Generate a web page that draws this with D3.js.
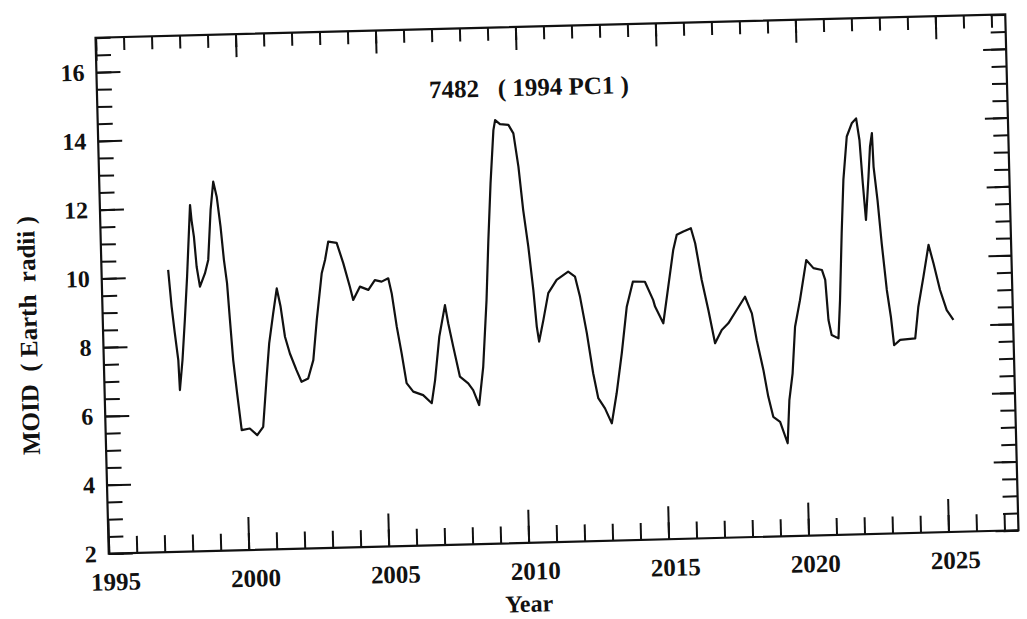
<!DOCTYPE html>
<html>
<head>
<meta charset="utf-8">
<script src="https://cdn.jsdelivr.net/npm/d3@7"></script>
<style>
    body { margin: 0; background: #fff; }
    text { font-family: "Liberation Serif", "Times New Roman", "DejaVu Serif", serif; font-weight: bold; fill: #111; }
</style>
</head>
<body>
<div id="chart"></div>
<script>
// MOID of 7482 (1994 PC1)
const years = [1997.38, 1997.47, 1997.56, 1997.66, 1997.69, 1997.81, 1997.93, 1998.05, 1998.22, 1998.26,
    1998.33, 1998.40, 1998.50, 1998.69, 1998.82, 1998.95, 1999.07, 1999.18, 1999.29, 1999.38,
    1999.47, 1999.54, 1999.62, 1999.73, 1999.86, 2000.15, 2000.41, 2000.63, 2000.80, 2000.92,
    2001.09, 2001.24, 2001.36, 2001.49, 2001.65, 2001.87, 2002.04, 2002.28, 2002.48, 2002.64,
    2002.86, 2002.99, 2003.12, 2003.42, 2003.64, 2003.85, 2003.96, 2004.21, 2004.51, 2004.75,
    2004.99, 2005.23, 2005.34, 2005.49, 2005.64, 2005.79, 2006.02, 2006.37, 2006.67, 2006.81,
    2007.00, 2007.23, 2007.33, 2007.49, 2007.70, 2007.99, 2008.16, 2008.36, 2008.54, 2008.72,
    2008.84, 2008.97, 2009.12, 2009.19, 2009.36, 2009.66, 2009.83, 2009.98, 2010.11, 2010.26,
    2010.40, 2010.49, 2010.56, 2010.73, 2010.93, 2011.24, 2011.66, 2011.90, 2012.06, 2012.27,
    2012.46, 2012.62, 2012.85, 2013.08, 2013.28, 2013.50, 2013.72, 2013.96, 2014.39, 2014.67,
    2014.73, 2015.01, 2015.22, 2015.43, 2015.57, 2015.81, 2016.08, 2016.22, 2016.42, 2016.63,
    2016.84, 2017.09, 2017.33, 2017.64, 2017.95, 2018.18, 2018.33, 2018.54, 2018.69, 2018.85,
    2019.09, 2019.34, 2019.44, 2019.58, 2019.71, 2019.91, 2020.17, 2020.42, 2020.72, 2020.83,
    2020.91, 2021.01, 2021.25, 2021.34, 2021.46, 2021.57, 2021.73, 2021.92, 2022.08, 2022.18,
    2022.26, 2022.34, 2022.47, 2022.55, 2022.63, 2022.66, 2022.77, 2022.88, 2023.02, 2023.14,
    2023.23, 2023.45, 2023.99, 2024.13, 2024.34, 2024.55, 2024.71, 2024.92, 2025.14, 2025.37];

const moid = [10.20, 9.13, 8.36, 7.57, 6.70, 7.57, 8.73, 9.99, 12.07, 11.63,
    11.15, 10.27, 9.69, 10.07, 10.46, 11.91, 12.73, 12.29, 11.42, 10.45,
    9.77, 8.70, 7.53, 6.56, 5.49, 5.53, 5.33, 5.57, 7.02, 7.99,
    8.86, 9.58, 9.05, 8.17, 7.68, 7.19, 6.85, 6.94, 7.47, 8.63,
    9.99, 10.37, 10.90, 10.86, 10.26, 9.58, 9.19, 9.57, 9.47, 9.75,
    9.70, 9.79, 9.35, 8.38, 7.60, 6.73, 6.48, 6.37, 6.13, 6.80,
    8.06, 8.97, 8.44, 7.75, 6.88, 6.68, 6.48, 6.04, 7.15, 9.09,
    10.83, 12.48, 14.02, 14.31, 14.19, 14.16, 13.91, 12.94, 11.68, 10.61,
    9.34, 8.27, 7.84, 8.46, 9.24, 9.62, 9.85, 9.70, 9.11, 8.05,
    6.88, 6.15, 5.85, 5.41, 6.28, 7.44, 8.79, 9.51, 9.50, 8.96,
    8.77, 8.28, 9.34, 10.40, 10.84, 10.93, 11.02, 10.58, 9.51, 8.63,
    7.66, 8.04, 8.23, 8.61, 8.99, 8.50, 7.72, 6.85, 6.07, 5.48,
    5.33, 4.70, 5.95, 6.73, 8.08, 8.85, 10.01, 9.77, 9.71, 9.42,
    8.25, 7.81, 7.71, 8.82, 10.76, 12.31, 13.57, 13.95, 14.09, 13.46,
    12.20, 11.13, 12.39, 13.26, 13.65, 12.67, 11.70, 10.44, 9.08, 8.30,
    7.47, 7.62, 7.65, 8.57, 9.44, 10.36, 9.82, 9.04, 8.45, 8.16];

const xTickLabels = [1995, 2000, 2005, 2010, 2015, 2020, 2025];
const yTickLabels = [2, 4, 6, 8, 10, 12, 14, 16];
const titleText = "7482   ( 1994 PC1 )";
const xLabelText = "Year";
const yLabelText = "MOID  ( Earth  radii )";

function init() {
    let margin = { top: 26, left: 102 },
        width = 910,
        height = 516;

    let svg = d3.select("#chart")
        .append("svg")
        .attr("width", 1027)
        .attr("height", 619);

    // the scanned page is tilted a little, so the whole plot is turned with it
    let g = svg.append("g")
        .attr("transform", "rotate(-1.47,557,284) translate(" + margin.left + "," + margin.top + ")");

    let x = d3.scaleLinear().domain([1995, 2027.5]).range([0, width]);
    let y = d3.scaleLinear().domain([2, 17]).range([height, 0]);

    let minorYears = d3.range(1995, 2028, 1);
    let minorY = d3.range(2, 17.01, 0.5);

    function tidy(sel) {
        sel.attr("font-family", null);
        sel.select(".domain").remove();
        sel.selectAll("line").attr("stroke", "#111").attr("stroke-width", 2);
        sel.selectAll("text").attr("fill", "#111");
    }

    // bottom: ticks every year, longer every 5 years, all pointing in
    g.append("g").attr("transform", "translate(0," + height + ")")
        .call(d3.axisBottom(x).tickValues(minorYears).tickSizeInner(-17).tickSizeOuter(0).tickFormat(""))
        .call(tidy);
    g.append("g").attr("transform", "translate(0," + height + ")")
        .call(d3.axisBottom(x).tickValues(xTickLabels).tickSizeInner(-33).tickSizeOuter(0)
            .tickPadding(19).tickFormat(d3.format("d")))
        .call(tidy)
        .selectAll("text").attr("dx", 6).attr("font-size", 25);

    // top mirror
    g.append("g")
        .call(d3.axisTop(x).tickValues(minorYears).tickSizeInner(-13).tickSizeOuter(0).tickFormat(""))
        .call(tidy);
    g.append("g")
        .call(d3.axisTop(x).tickValues(xTickLabels).tickSizeInner(-23).tickSizeOuter(0).tickFormat(""))
        .call(tidy);

    // left
    g.append("g")
        .call(d3.axisLeft(y).tickValues(minorY).tickSizeInner(-15).tickSizeOuter(0).tickFormat(""))
        .call(tidy);
    g.append("g")
        .call(d3.axisLeft(y).tickValues(yTickLabels).tickSizeInner(-24).tickSizeOuter(0)
            .tickPadding(12).tickFormat(d3.format("d")))
        .call(tidy)
        .selectAll("text").attr("font-size", 24);

    // right mirror
    g.append("g").attr("transform", "translate(" + width + ",0)")
        .call(d3.axisRight(y).tickValues(minorY).tickSizeInner(-15).tickSizeOuter(0).tickFormat(""))
        .call(tidy);
    g.append("g").attr("transform", "translate(" + width + ",0)")
        .call(d3.axisRight(y).tickValues(yTickLabels).tickSizeInner(-23).tickSizeOuter(0).tickFormat(""))
        .call(tidy);

    // frame
    g.append("rect")
        .attr("width", width)
        .attr("height", height)
        .attr("fill", "none")
        .attr("stroke", "#111")
        .attr("stroke-width", 2.2);

    let points = years.map(function (d, i) { return [d, moid[i]]; });
    let line = d3.line()
        .x(function (d) { return x(d[0]); })
        .y(function (d) { return y(d[1]); });

    g.append("path")
        .datum(points)
        .attr("d", line)
        .attr("fill", "none")
        .attr("stroke", "#111")
        .attr("stroke-width", 2.2)
        .attr("stroke-linejoin", "round");

    g.append("text")
        .attr("x", 432)
        .attr("y", 69)
        .attr("text-anchor", "middle")
        .attr("font-size", 25)
        .style("white-space", "pre")
        .text(titleText);

    g.append("text")
        .attr("x", 419)
        .attr("y", 585)
        .attr("text-anchor", "middle")
        .attr("font-size", 24)
        .text(xLabelText);

    g.append("text")
        .attr("transform", "translate(-75,296) rotate(-90)")
        .attr("dy", "0.35em")
        .attr("text-anchor", "middle")
        .attr("font-size", 25)
        .style("white-space", "pre")
        .text(yLabelText);
}

window.addEventListener('load', init);
</script>
</body>
</html>
